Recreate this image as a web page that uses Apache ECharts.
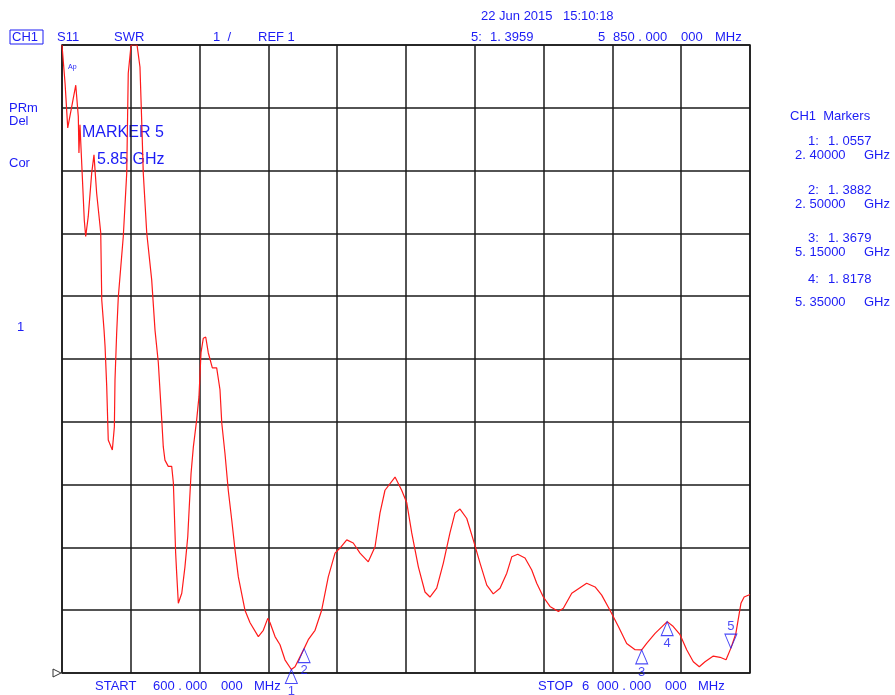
<!DOCTYPE html>
<html>
<head>
<meta charset="utf-8">
<script src="https://cdn.jsdelivr.net/npm/echarts@6/dist/echarts.min.js"></script>
<style>
  html, body { margin: 0; padding: 0; background: #fff; }
  #chart { width: 895px; height: 695px; }
</style>
</head>
<body>
<div id="chart"></div>
<script>
// S11 SWR sweep, 600 MHz .. 6000 MHz, 1 SWR per division from REF 1
const freqMHz = [
  600, 624, 645, 650, 708, 728, 733, 741, 775, 786, 806, 833, 851, 872, 904, 912, 930, 938, 951, 963,
  995, 1011, 1016, 1029, 1042, 1081, 1108, 1120, 1142, 1189, 1212, 1226, 1238, 1265, 1304, 1330, 1356, 1383, 1395, 1408,
  1434, 1461, 1474, 1481, 1492, 1500, 1513, 1540, 1565, 1587, 1599, 1613, 1631, 1657, 1675, 1691, 1709, 1728, 1748, 1780,
  1814, 1840, 1854, 1879, 1905, 1932, 1958, 1984, 2036, 2076, 2141, 2180, 2215, 2233, 2272, 2311, 2350, 2400, 2429, 2500,
  2533, 2586, 2638, 2690, 2743, 2782, 2835, 2886, 2939, 3004, 3057, 3096, 3135, 3214, 3266, 3306, 3345, 3397, 3449, 3488,
  3541, 3593, 3645, 3685, 3724, 3777, 3828, 3881, 3934, 3985, 4038, 4091, 4130, 4177, 4234, 4287, 4326, 4378, 4430, 4496,
  4535, 4601, 4718, 4784, 4836, 4901, 4967, 5032, 5098, 5150, 5189, 5255, 5350, 5398, 5451, 5503, 5555, 5602, 5647, 5712,
  5765, 5812, 5850, 5889, 5929, 5954, 6000
];
const swr = [
  11.0, 10.39, 9.68, 9.66, 10.36, 9.86, 9.28, 9.73, 8.21, 7.95, 8.27, 8.96, 9.25, 8.64, 8.01, 6.94, 6.46, 6.20, 5.56, 4.71,
  4.55, 4.92, 5.67, 6.41, 6.99, 7.95, 8.96, 10.55, 11.0, 11.0, 10.65, 9.76, 8.96, 8.01, 7.26, 6.46, 5.94, 5.03, 4.60, 4.39,
  4.29, 4.29, 4.03, 3.60, 2.91, 2.59, 2.11, 2.27, 2.69, 3.17, 3.65, 4.18, 4.60, 5.03, 5.40, 6.10, 6.33, 6.35, 6.10, 5.86,
  5.86, 5.51, 4.98, 4.50, 3.91, 3.44, 2.96, 2.53, 2.00, 1.80, 1.58, 1.68, 1.87, 1.80, 1.58, 1.45, 1.21, 1.0557, 1.10, 1.3882,
  1.53, 1.68, 2.00, 2.53, 2.91, 2.99, 3.12, 3.07, 2.91, 2.77, 3.01, 3.55, 3.91, 4.12, 3.91, 3.71, 3.23, 2.69, 2.29, 2.21,
  2.35, 2.75, 3.23, 3.55, 3.61, 3.46, 3.12, 2.75, 2.40, 2.26, 2.35, 2.59, 2.85, 2.89, 2.83, 2.64, 2.43, 2.21, 2.06, 1.98,
  2.03, 2.27, 2.43, 2.37, 2.24, 2.00, 1.74, 1.47, 1.37, 1.3679, 1.47, 1.63, 1.8178, 1.74, 1.61, 1.37, 1.18, 1.10, 1.18, 1.27,
  1.25, 1.21, 1.3959, 1.63, 2.11, 2.21, 2.25
];

// Marker readouts
const markerIds = ['1', '2', '3', '4', '5'];
const markerFreq = [2400, 2500, 5150, 5350, 5850];
const markerSwr = [1.0557, 1.3882, 1.3679, 1.8178, 1.3959];

// Axis span and scale
const startMHz = 600, stopMHz = 6000, divCount = 10;
const refValue = 1, perDiv = 1;

const BLUE = '#1c1cf5';
const RED = '#ff1a1a';
const FONT = '"Liberation Sans", Arial, sans-serif';

function txt(x, y, s, size) {
  return {
    type: 'text', x: x, y: y,
    style: { text: s, fill: BLUE, font: (size || 13) + 'px ' + FONT, textVerticalAlign: 'middle' }
  };
}
// a row of text pieces placed at their own x positions
function row(y, pieces, size) {
  return pieces.map(p => txt(p[0], y, p[1], size));
}

const fmt4 = v => v.toFixed(4).replace('.', '. ');
const fmtGHz = f => (f / 1000).toFixed(5).replace('.', '. ');

const markerPanel = [];
const rowY = [[141, 155], [190, 204], [238, 252], [279, 302]];
for (let i = 0; i < 4; i++) {
  markerPanel.push(...row(rowY[i][0], [[808, markerIds[i] + ':'], [828, fmt4(markerSwr[i])]]));
  markerPanel.push(...row(rowY[i][1], [[795, fmtGHz(markerFreq[i])], [864, 'GHz']]));
}

const chart = echarts.init(document.getElementById('chart'), null, { renderer: 'canvas' });

const upMarkers = [], downMarkers = [];
markerIds.forEach((id, i) => {
  const item = { value: [markerFreq[i], markerSwr[i]], name: id };
  (id === '5' ? downMarkers : upMarkers).push(item);
});

const markerLabel = (pos) => ({
  show: true, position: pos, distance: 1, formatter: p => p.name,
  color: BLUE, fontSize: 13, fontFamily: FONT
});

chart.setOption({
  animation: false,
  backgroundColor: '#ffffff',
  grid: { left: 62, right: 145, top: 45, bottom: 22, show: true, borderColor: '#1a1a1a', borderWidth: 1.5, backgroundColor: 'transparent' },
  xAxis: {
    type: 'value', min: startMHz, max: stopMHz, interval: (stopMHz - startMHz) / divCount,
    axisLine: { show: false }, axisTick: { show: false }, axisLabel: { show: false },
    splitLine: { show: true, lineStyle: { color: '#1a1a1a', width: 1.5 } }
  },
  yAxis: {
    type: 'value', min: refValue, max: refValue + perDiv * divCount, interval: perDiv,
    axisLine: { show: false }, axisTick: { show: false }, axisLabel: { show: false },
    splitLine: { show: true, lineStyle: { color: '#1a1a1a', width: 1.5 } }
  },
  series: [
    {
      type: 'line',
      data: freqMHz.map((f, i) => [f, swr[i]]),
      showSymbol: false,
      smooth: false,
      clip: true,
      lineStyle: { color: RED, width: 1.2 },
      z: 3
    },
    {
      type: 'scatter',
      data: upMarkers,
      symbol: 'triangle',
      symbolSize: [12, 14],
      symbolOffset: [0, 7],
      itemStyle: { color: 'rgba(0,0,0,0)', borderColor: BLUE, borderWidth: 1 },
      label: markerLabel('bottom'),
      clip: false,
      z: 4
    },
    {
      type: 'scatter',
      data: downMarkers,
      symbol: 'triangle',
      symbolRotate: 180,
      symbolSize: [12, 14],
      symbolOffset: [0, -7],
      itemStyle: { color: 'rgba(0,0,0,0)', borderColor: BLUE, borderWidth: 1 },
      label: markerLabel('top'),
      clip: false,
      z: 4
    }
  ],
  graphic: [
    // channel box
    { type: 'rect', shape: { x: 10, y: 30, width: 33, height: 14 }, style: { fill: 'none', stroke: BLUE, lineWidth: 1 } },
    txt(12, 37, 'CH1'),
    txt(57, 37, 'S11'),
    txt(114, 37, 'SWR'),
    txt(213, 37, '1  /'),
    txt(258, 37, 'REF 1'),
    ...row(16, [[481, '22 Jun 2015'], [563, '15:10:18']]),
    ...row(37, [[471, markerIds[4] + ':'], [490, fmt4(markerSwr[4])],
                [598, '5'], [613, '850 . 000'], [681, '000'], [715, 'MHz']]),
    txt(9, 108, 'PRm'),
    txt(9, 121, 'Del'),
    txt(9, 163, 'Cor'),
    txt(17, 327, '1'),
    txt(68, 67, 'Ap', 7),
    txt(82, 133, 'MARKER 5', 16),
    txt(97, 160, '5.85 GHz', 16),
    txt(790, 116, 'CH1  Markers'),
    ...markerPanel,
    ...row(686, [[95, 'START'], [153, '600 . 000'], [221, '000'], [254, 'MHz']]),
    ...row(686, [[538, 'STOP'], [582, '6'], [597, '000 . 000'], [665, '000'], [698, 'MHz']]),
    // reference position indicator
    { type: 'polygon', shape: { points: [[53, 669], [53, 677], [61, 673]] }, style: { fill: 'none', stroke: '#333', lineWidth: 1 } }
  ]
});
</script>
</body>
</html>
